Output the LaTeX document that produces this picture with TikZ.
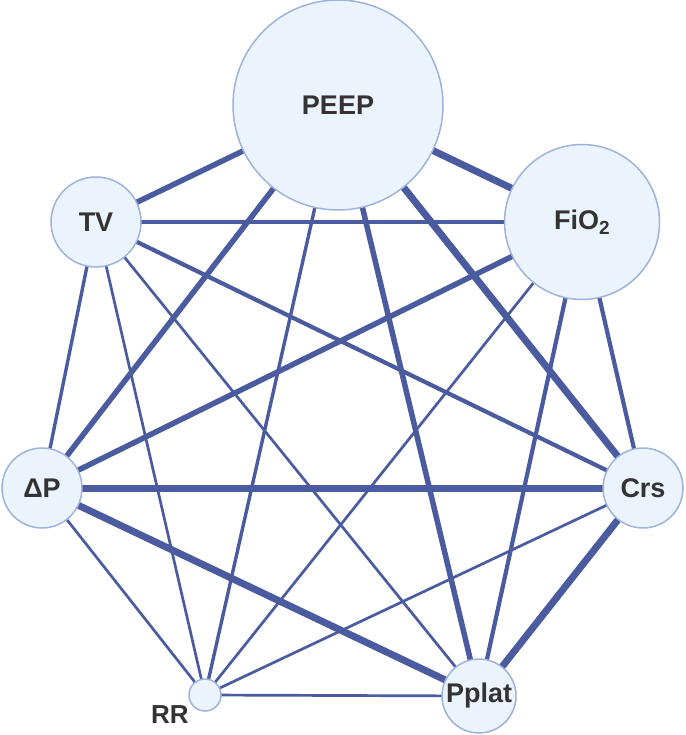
\documentclass[tikz,border=0pt]{standalone}
\usepackage{fontspec}
\setmainfont{Liberation Sans}
\usetikzlibrary{backgrounds}
\definecolor{edgecol}{HTML}{4B5B9F}
\definecolor{nodefill}{HTML}{EBF3FD}
\definecolor{nodeline}{HTML}{9DB3DE}
\definecolor{txtcol}{HTML}{333333}
\tikzset{
  varnode/.style={circle, draw=nodeline, line width=1.5pt, fill=nodefill, inner sep=0pt,
    text=txtcol, font=\bfseries\fontsize{27}{31}\selectfont},
  wthick/.style={draw=edgecol, line width=7pt},
  wmthick/.style={draw=edgecol, line width=5.5pt},
  wmed/.style={draw=edgecol, line width=4.2pt},
  wmthin/.style={draw=edgecol, line width=3.4pt},
  wthin/.style={draw=edgecol, line width=2.7pt},
  lbl/.style={text=txtcol, font=\bfseries\fontsize{26}{30}\selectfont}
}
\begin{document}
\begin{tikzpicture}[x=1pt, y=-1pt]
\useasboundingbox (0,0) rectangle (685,735);
\node[varnode, minimum size=210pt] (peep) at (338,105) {PEEP};
\node[varnode, minimum size=90pt] (tv) at (96,222) {TV};
\node[varnode, minimum size=155pt] (fio) at (582,222) {FiO\textsubscript{2}};
\node[varnode, minimum size=80pt] (dp) at (42,488) {ΔP};
\node[varnode, minimum size=80pt] (crs) at (643,488) {Crs};
\node[varnode, minimum size=32pt] (rr) at (205,695) {};
\node[varnode, minimum size=74pt] (pplat) at (479,696) {Pplat};
\node[lbl] (rrlabel) at (170,715) {RR};
\begin{scope}[on background layer]
\draw[wmthick] (peep.center) -- (tv.center);
\draw[wthick]  (peep.center) -- (fio.center);
\draw[wmthick] (peep.center) -- (dp.center);
\draw[wmthin]  (peep.center) -- (rr.center);
\draw[wmthick] (peep.center) -- (pplat.center);
\draw[wthick]  (peep.center) -- (crs.center);
\draw[wmthin]  (tv.center) -- (fio.center);
\draw[wmthin]  (tv.center) -- (dp.center);
\draw[wthin]   (tv.center) -- (rr.center);
\draw[wthin]   (tv.center) -- (pplat.center);
\draw[wmed]    (tv.center) -- (crs.center);
\draw[wmthick] (fio.center) -- (dp.center);
\draw[wthin]   (fio.center) -- (rr.center);
\draw[wmed]    (fio.center) -- (pplat.center);
\draw[wmed]    (fio.center) -- (crs.center);
\draw[wthick]  (dp.center) -- (crs.center);
\draw[wthick]  (dp.center) -- (pplat.center);
\draw[wthin]   (dp.center) -- (rr.center);
\draw[wthin]   (crs.center) -- (rr.center);
\draw[wthick]  (crs.center) -- (pplat.center);
\draw[wthin]   (rr.center) -- (pplat.center);
\end{scope}
\end{tikzpicture}
\end{document}
